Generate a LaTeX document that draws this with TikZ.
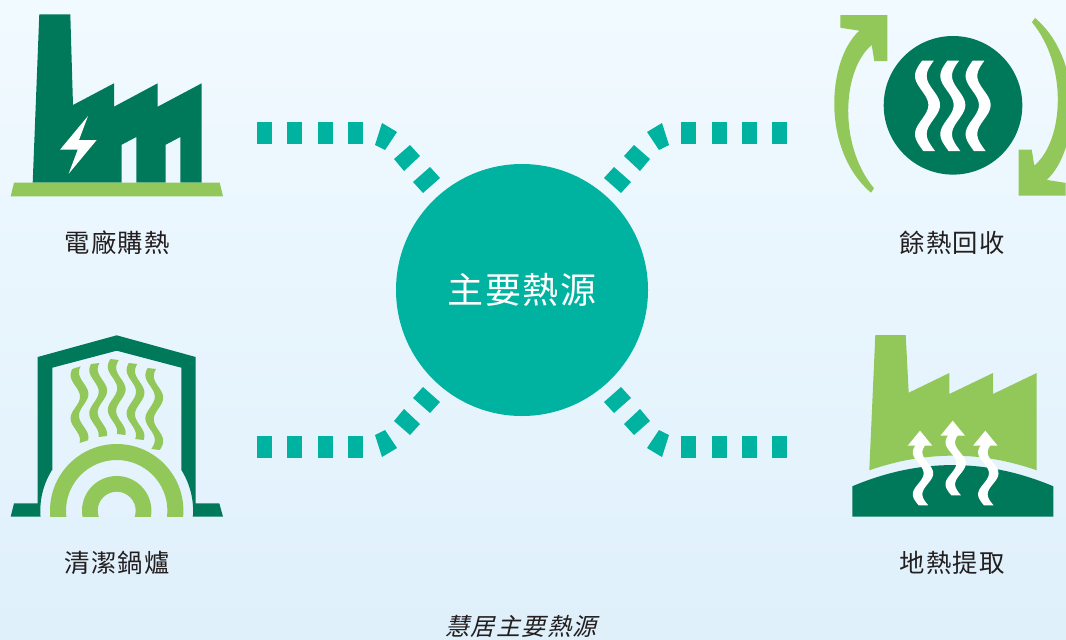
\documentclass[tikz,border=0pt]{standalone}
\usepackage{fontspec}
\setmainfont{Noto Sans CJK TC}
\newfontfamily\labfont[LetterSpace=4.5]{Noto Sans CJK TC}
\newfontfamily\capfont[FakeSlant=0.25,LetterSpace=6]{Noto Sans CJK TC}
\definecolor{bgtop}{HTML}{F1FAFF}
\definecolor{bgbot}{HTML}{DFF0FB}
\definecolor{dkgreen}{HTML}{00785A}
\definecolor{ltgreen}{HTML}{92C85A}
\definecolor{teal0}{HTML}{00B2A0}
\definecolor{ink}{HTML}{231F20}
\tikzset{
  tile/.style={fill=teal0},
  dark/.style={fill=dkgreen},
  light/.style={fill=ltgreen},
  whitefill/.style={fill=white},
  label/.style={font=\labfont\fontsize{19}{19}\selectfont,text=ink,inner sep=0pt},
}
\newcommand{\tileset}{%
  \foreach \xa in {257,287,317.5,348}{\fill[tile] (\xa,122) rectangle ++(15,22);}
  \fill[tile] (382,123) -- (397,132) -- (385,150) -- (375,145) -- cycle;
  \fill[tile] (410,145) -- (420,156) -- (404,171) -- (394,159) -- cycle;
  \fill[tile] (430,167) -- (440,178) -- (423,193) -- (413,182) -- cycle;
}
\newcommand{\turnarrow}{%
  \fill[light] (871,192.7) .. controls (821,150) and (827,60) .. (859.3,30.7)
    -- (840.3,27.7) -- (840.3,15) -- (887.3,15) -- (887.3,61) -- (874.3,61) -- (871.7,45)
    .. controls (842,70) and (838,145) .. (874,188.3) -- cycle;
}
% #1 fill style, #2 centre x, #3 amplitude, #4 half width, #5 y of right bulge, #6 period, #7 top y, #8 bottom y, #9 slant
\newcommand{\wavefill}[9]{%
  \fill[#1] plot[domain=#7:#8,samples=60,variable=\t] ({#2-#4+#3*cos(360/#6*(\t-#5))},{\t})
    -- plot[domain=#8:#7,samples=60,variable=\t] ({#2+#4+#3*cos(360/#6*(\t-#5))},{\t-#9}) -- cycle;
}
\begin{document}
\begin{tikzpicture}[x=.75pt,y=.75pt,yscale=-1]
\useasboundingbox (0,0) rectangle (1066,639);
\shade[top color=bgtop,bottom color=bgbot] (0,0) rectangle (1066,639);

% connectors
\tileset
\begin{scope}[shift={(1044,0)},xscale=-1]\tileset\end{scope}
\begin{scope}[shift={(0,580)},yscale=-1]\tileset\end{scope}
\begin{scope}[shift={(1044,580)},xscale=-1,yscale=-1]\tileset\end{scope}

% centre
\node[circle,fill=teal0,minimum size=189pt,inner sep=0pt,text=white,font=\labfont\fontsize{27}{27}\selectfont] (hub) at (522,290) {\raisebox{-1.5pt}{主要熱源}};

% power plant
\fill[dark] (39.3,14.3) -- (70.3,14.3) -- (73,105) -- (114,83.3) -- (114,106.7) -- (157.7,83.3) -- (157.7,106.7) -- (201.7,83.3) -- (201.7,182.7) -- (180.3,182.7) -- (180.3,137) -- (165.7,144.7) -- (165.7,182.7) -- (136.3,182.7) -- (136.3,137) -- (121.7,144.7) -- (121.7,182.7) -- (32.7,182.7) -- cycle;
\fill[whitefill] (88,116) -- (60,149.7) -- (77.7,149.7) -- (68.7,173.7) -- (96.7,140) -- (79,140) -- cycle;
\fill[light] (14,182.7) -- (219.7,182.7) -- (223,196.3) -- (10.7,196.3) -- cycle;
\node[label] (plantlabel) at (117,243) {電廠購熱};

% boiler
\fill[dark,even odd rule] (116.7,335.3) -- (195.7,357) -- (195.7,503.3) -- (219.3,503.3) -- (223,516.7) -- (192.3,516.7)
  -- plot[domain=4.5:-32.2,samples=30] ({116.7+76.4*cos(\x)},{510.7+76.4*sin(\x)})
  -- (181.3,367.7) -- (116.7,350.7) -- (52.3,367.7) -- (52.3,470)
  -- plot[domain=212.2:175.5,samples=30] ({116.7+76.4*cos(\x)},{510.7+76.4*sin(\x)})
  -- (10.7,516.7) -- (14,503.3) -- (37.7,503.3) -- (37.7,357) -- cycle;
\begin{scope}
\clip (0,400) rectangle (240,516.7);
\fill[light,even odd rule] (116.7,510.7) circle (66.7) (116.7,510.7) circle (50.7);
\fill[light,even odd rule] (116.7,510.7) circle (34.7) (116.7,510.7) circle (19);
\end{scope}
\wavefill{light}{79.5}{4.7}{4.2}{396.7}{43.3}{369}{443}{2.7}
\wavefill{light}{98.2}{4.7}{4.2}{391.7}{43.3}{364}{437}{1}
\wavefill{light}{116.7}{4.7}{4.2}{388.3}{43.3}{359}{434}{-1}
\wavefill{light}{135.5}{4.7}{4.2}{391.7}{43.3}{363}{439}{-1}
\wavefill{light}{154.3}{4.7}{4.2}{396.7}{43.3}{368}{449}{-1}
\node[label] (boilerlabel) at (117,563) {清潔鍋爐};

% recovery
\fill[dark] (953,105.3) circle (69.3);
\wavefill{whitefill}{927.5}{6.65}{5.85}{105}{58.3}{60.7}{151}{0}
\wavefill{whitefill}{952.8}{6.65}{5.85}{105}{58.3}{60.7}{151}{0}
\wavefill{whitefill}{978.1}{6.65}{5.85}{105}{58.3}{60.7}{151}{0}
\turnarrow
\begin{scope}[shift={(1906,210.6)},xscale=-1,yscale=-1]\turnarrow\end{scope}
\node[label] (recoverlabel) at (952,243) {餘熱回收};

% geothermal
\fill[light] (875.3,335) -- (905.7,335) -- (908.7,392.7) -- (949.3,373) -- (949.3,394) -- (993,373) -- (993,394) -- (1036.7,373) -- (1036.7,470.3) .. controls (981,450.8) and (925,450.8) .. (869.3,470.3) -- cycle;
\fill[dark] (852.3,486.3) .. controls (919,458) and (986,458) .. (1053.3,486.3) -- (1053.3,516.7) -- (852.3,516.7) -- cycle;
\foreach \dx/\dy in {0/0,32.7/-10,65.3/0}{
  \begin{scope}[shift={(\dx,\dy)}]
  \fill[whitefill] (920,430.7) -- (907.7,445.7) -- (932.3,445.7) -- cycle;
  \wavefill{whitefill}{923}{5.4}{4.8}{473.3}{42}{445}{505.3}{0}
  \end{scope}
}
\node[label] (geolabel) at (952,563) {地熱提取};

% caption
\node[font=\capfont\fontsize{18}{18}\selectfont,text=ink,inner sep=0pt] (caption) at (521,626) {慧居主要熱源};
\end{tikzpicture}
\end{document}
